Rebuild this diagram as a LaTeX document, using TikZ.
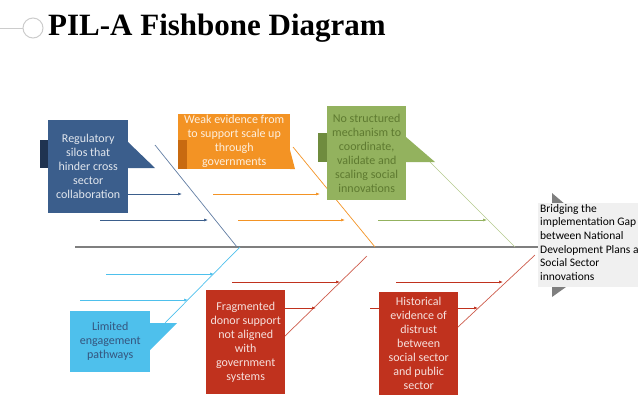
\documentclass[tikz,border=0pt]{standalone}
\usepackage{fontspec}
\setmainfont{Liberation Serif}
\newfontfamily\boxfont{Carlito}
\usetikzlibrary{arrows.meta}
\definecolor{RegBlue}{HTML}{3B5E8C}
\definecolor{RegDark}{HTML}{1F3350}
\definecolor{WeakOrange}{HTML}{F39324}
\definecolor{WeakDark}{HTML}{C86A10}
\definecolor{MechGreen}{HTML}{93B25E}
\definecolor{MechDark}{HTML}{6F8C3E}
\definecolor{MechText}{HTML}{5E7A30}
\definecolor{PathBlue}{HTML}{4EC0EC}
\definecolor{DonorRed}{HTML}{C0321E}
\definecolor{SpineGray}{HTML}{7F7F7F}
\begin{document}
\begin{tikzpicture}[x=1pt, y=-1pt,
    cause/.style = { inner sep=0pt, align=center, font=\boxfont\fontsize{12}{14}\selectfont },
    bone/.style = { line width=0.7pt },
    sub/.style = { line width=0.6pt, -{Latex[length=4pt,width=3pt]} }]
  \useasboundingbox (0,0) rectangle (638,416);
  \clip (0,0) rectangle (638,416);

  % title
  \draw[gray!40, line width=0.8pt] (0,28) -- (23,28);
  \draw[gray!40, line width=1pt] (33,28) circle (10);
  \node (title) [anchor=west, inner sep=0pt, font=\bfseries\fontsize{31}{33}\selectfont] at (48,28) {PIL-A Fishbone Diagram};

  % spine and head
  \draw[SpineGray, line width=1.2pt] (75,247) coordinate (tail) -- (540,247) coordinate (head);
  \fill[SpineGray] (552,193) -- (566,205) -- (552,205) -- cycle;
  \fill[SpineGray] (552,287) -- (566,287) -- (552,297) -- cycle;
  \fill[gray!12] (538,203) rectangle (638,287);
  \node (effect) [anchor=north west, inner sep=0pt, align=left, font=\boxfont\fontsize{11.5}{13.7}\selectfont]
     at (540,204) {Bridging the\\implementation Gap\\between National\\Development Plans a\\Social Sector\\innovations};

  % top bones
  \draw[RegBlue!80, bone] (155,145) coordinate (r1) -- (237,247) coordinate (r2);
  \draw[WeakOrange, bone] (293,147) coordinate (w1) -- (375,247) coordinate (w2);
  \draw[MechGreen!70, bone] (430,162) coordinate (m1) -- (515,247) coordinate (m2);
  \draw[RegBlue, sub] (128,194) -- (182,194);
  \draw[RegBlue, sub] (100,220) -- (208,220);
  \draw[WeakOrange, sub] (213,194) -- (320,194);
  \draw[WeakOrange, sub] (238,220) -- (345,220);
  \draw[MechGreen, sub] (378,220) -- (487,220);

  % bottom bones
  \draw[PathBlue, bone] (165,323) coordinate (p1) -- (240,247) coordinate (p2);
  \draw[DonorRed!80, bone] (285,336) coordinate (d1) -- (367,256) coordinate (d2);
  \draw[DonorRed!80, bone] (458,327) coordinate (h1) -- (535,255) coordinate (h2);
  \draw[PathBlue, sub] (106,274) -- (214,274);
  \draw[PathBlue, sub] (80,300) -- (188,300);
  \draw[DonorRed, sub] (232,282) -- (340,282);
  \draw[DonorRed, sub] (206,308) -- (316,308);
  \draw[DonorRed, sub] (396,282) -- (503,282);
  \draw[DonorRed, sub] (370,308) -- (478,308);

  % regulatory silos
  \fill[RegDark] (40,140) rectangle (48,168);
  \fill[RegBlue] (128,142) -- (155,168) -- (128,168) -- cycle;
  \node (silos) [cause, fill=RegBlue, text=white!85!RegBlue, minimum width=80pt, minimum height=93pt,
     anchor=north west] at (48,120) {Regulatory\\silos that\\hinder cross\\sector\\collaboration};

  % weak evidence
  \node (weak) [cause, fill=WeakOrange, text=white!85!WeakOrange, minimum width=112pt, minimum height=55pt,
     anchor=north west] at (178,114) {Weak evidence from\\to support scale up\\through\\governments};
  \fill[WeakDark] (178,140) rectangle (187,169);
  \fill[WeakOrange] (290,150) -- (295,169) -- (290,169) -- cycle;

  % structured mechanism
  \fill[MechDark] (318,133) rectangle (327,162);
  \fill[MechGreen] (406,137) -- (435,162) -- (406,162) -- cycle;
  \node (mech) [cause, fill=MechGreen, text=MechText, minimum width=79pt, minimum height=94pt,
     anchor=north west] at (327,106) {No structured\\mechanism to\\coordinate,\\validate and\\scaling social\\innovations};

  % engagement pathways
  \fill[PathBlue] (150,323) -- (177,323) -- (150,350) -- cycle;
  \node (paths) [cause, fill=PathBlue, text=RegBlue!90!black, minimum width=80pt, minimum height=61pt,
     anchor=north west] at (70,311) {Limited\\engagement\\pathways};

  % donor support
  \node (donor) [cause, fill=DonorRed, text=white!85!DonorRed, minimum width=79pt, minimum height=104pt,
     anchor=north west] at (206,290) {Fragmented\\donor support\\not aligned\\with\\government\\systems};

  % distrust
  \node (distrust) [cause, fill=DonorRed, text=white!85!DonorRed, minimum width=79pt, minimum height=103pt,
     anchor=north west] at (379,292) {Historical\\evidence of\\distrust\\between\\social sector\\and public\\sector};
\end{tikzpicture}
\end{document}
